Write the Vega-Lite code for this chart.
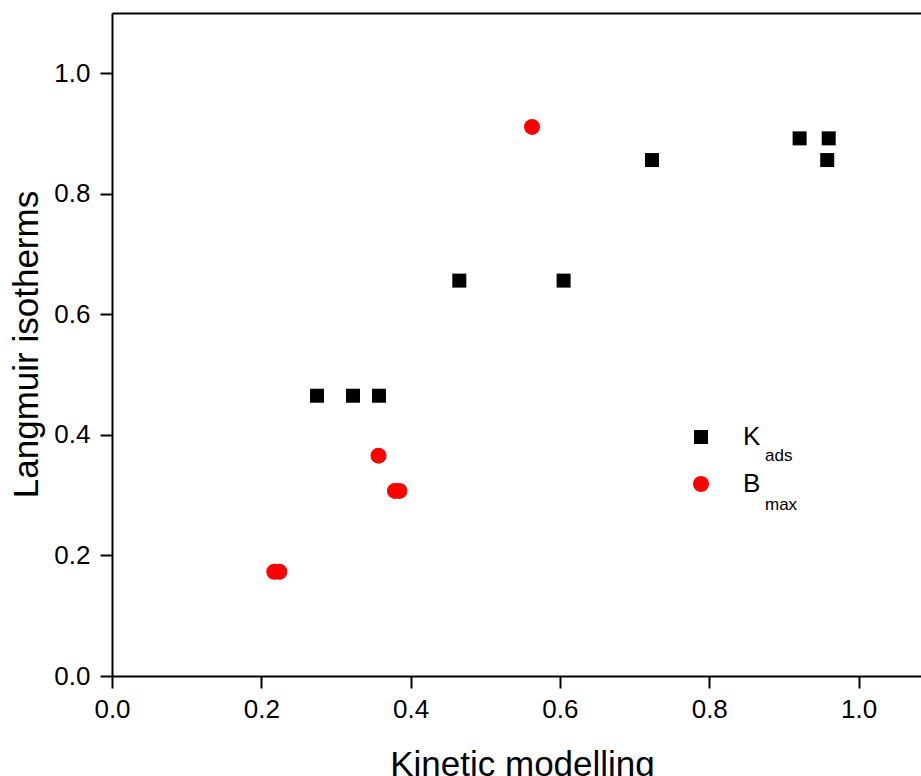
{
  "$schema": "https://vega.github.io/schema/vega-lite/v6.json",
  "width": 809,
  "height": 663,
  "autosize": {"type": "none"},
  "padding": {"left": 112, "top": 13, "right": 0, "bottom": 100},
  "background": "white",
  "config": {
    "view": {"stroke": null},
    "font": "Liberation Sans",
    "axis": {
      "domainColor": "black",
      "domainWidth": 2,
      "tickColor": "black",
      "tickWidth": 2,
      "tickSize": 12,
      "grid": false,
      "labelFlush": false,
      "labelOverlap": false,
      "labelFont": "Liberation Sans",
      "labelFontSize": 26,
      "labelColor": "black",
      "titleFont": "Liberation Sans",
      "titleFontSize": 35,
      "titleFontWeight": "normal",
      "titleColor": "black"
    },
    "legend": {
      "labelFont": "Liberation Sans",
      "labelColor": "black"
    }
  },
  "data": {
    "values": [
      {"series": "K", "sub": "ads", "kinetic": 0.2746, "langmuir": 0.465},
      {"series": "K", "sub": "ads", "kinetic": 0.3228, "langmuir": 0.465},
      {"series": "K", "sub": "ads", "kinetic": 0.3576, "langmuir": 0.465},
      {"series": "K", "sub": "ads", "kinetic": 0.4652, "langmuir": 0.656},
      {"series": "K", "sub": "ads", "kinetic": 0.6049, "langmuir": 0.656},
      {"series": "K", "sub": "ads", "kinetic": 0.7233, "langmuir": 0.856},
      {"series": "K", "sub": "ads", "kinetic": 0.921, "langmuir": 0.892},
      {"series": "K", "sub": "ads", "kinetic": 0.96, "langmuir": 0.892},
      {"series": "K", "sub": "ads", "kinetic": 0.958, "langmuir": 0.856},
      {"series": "B", "sub": "max", "kinetic": 0.5626, "langmuir": 0.911},
      {"series": "B", "sub": "max", "kinetic": 0.357, "langmuir": 0.3655},
      {"series": "B", "sub": "max", "kinetic": 0.379, "langmuir": 0.307},
      {"series": "B", "sub": "max", "kinetic": 0.385, "langmuir": 0.307},
      {"series": "B", "sub": "max", "kinetic": 0.2174, "langmuir": 0.173},
      {"series": "B", "sub": "max", "kinetic": 0.2241, "langmuir": 0.173}
    ]
  },
  "layer": [
    {
      "mark": {"type": "point", "filled": true, "opacity": 1},
      "encoding": {
        "x": {
          "field": "kinetic",
          "type": "quantitative",
          "scale": {"domain": [0, 1.0836], "nice": false, "zero": false},
          "axis": {
            "title": "Kinetic modelling",
            "values": [0, 0.2, 0.4, 0.6, 0.8, 1.0],
            "format": ".1f",
            "labelPadding": 8,
            "titleX": 410,
            "titleY": 99,
            "titleAlign": "center",
            "titleBaseline": "alphabetic"
          }
        },
        "y": {
          "field": "langmuir",
          "type": "quantitative",
          "scale": {"domain": [0, 1.1], "nice": false, "zero": false},
          "axis": {
            "title": "Langmuir isotherms",
            "values": [0, 0.2, 0.4, 0.6, 0.8, 1.0],
            "format": ".1f",
            "labelPadding": 10,
            "titleX": -75,
            "titleY": 331,
            "titleAngle": 270,
            "titleAlign": "center",
            "titleBaseline": "alphabetic"
          }
        },
        "color": {
          "field": "series",
          "type": "nominal",
          "scale": {"domain": ["K", "B"], "range": ["#000000", "#ff0000"]},
          "legend": {
            "title": null,
            "orient": "none",
            "legendX": 576,
            "legendY": 411,
            "padding": 0,
            "labelFontSize": 26,
            "labelOffset": 29,
            "rowPadding": 21,
            "symbolSize": 220,
            "symbolStrokeWidth": 0
          }
        },
        "shape": {
          "field": "series",
          "type": "nominal",
          "scale": {"domain": ["K", "B"], "range": ["square", "circle"]}
        },
        "size": {
          "field": "series",
          "type": "nominal",
          "scale": {"domain": ["K", "B"], "range": [196, 256]},
          "legend": null
        },
        "opacity": {
          "field": "sub",
          "type": "nominal",
          "scale": {"domain": ["ads", "max"], "range": [1, 1]},
          "legend": {
            "title": null,
            "orient": "none",
            "legendX": 636,
            "legendY": 434,
            "padding": 0,
            "labelFontSize": 17,
            "labelOffset": 0,
            "rowPadding": 31,
            "symbolSize": 1,
            "symbolOpacity": 0,
            "symbolStrokeWidth": 0,
            "symbolFillColor": "transparent",
            "symbolStrokeColor": "transparent"
          }
        }
      }
    },
    {
      "mark": {"type": "point", "opacity": 0},
      "encoding": {
        "x": {
          "field": "kinetic",
          "type": "quantitative",
          "scale": {"domain": [0, 1.0836], "nice": false, "zero": false},
          "axis": {
            "orient": "top",
            "title": null,
            "labels": false,
            "ticks": false
          }
        }
      }
    }
  ],
  "resolve": {"axis": {"x": "independent"}}
}
